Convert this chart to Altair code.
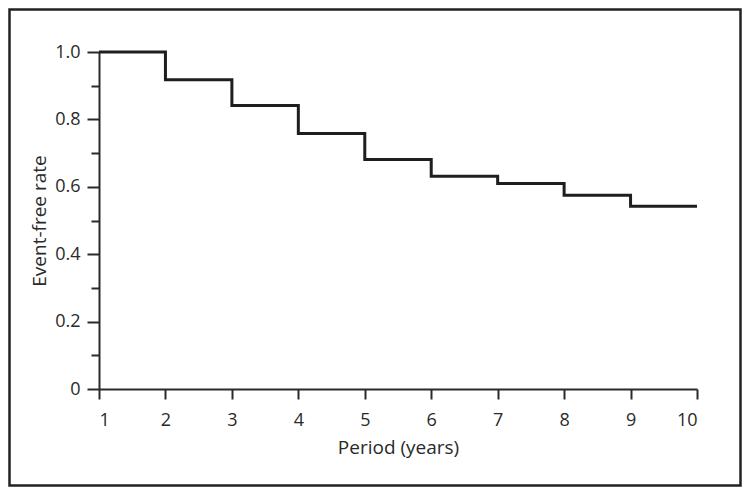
import altair as alt
import pandas as pd

years = [1, 2, 3, 4, 5, 6, 7, 8, 9, 10]
rates = [1.0, 0.918, 0.841, 0.758, 0.681, 0.631, 0.610, 0.575, 0.542, 0.542]
y_ticks = [0, 0.1, 0.2, 0.3, 0.4, 0.5, 0.6, 0.7, 0.8, 0.9, 1.0]

df = pd.DataFrame({"year": years, "rate": rates})

FONT = "Open Sans"
TXT = "#2a2a2a"
AX = "#2a2a2a"

W, H = 598, 337
PL, PT, PR, PB = 91, 44, 45, 98

line = alt.Chart(df).mark_line(
    interpolate="step-after", color="#1e1e1e", strokeWidth=3,
    strokeJoin="miter", strokeCap="butt"
).encode(
    x=alt.X("year:Q", scale=alt.Scale(domain=[1, 10], nice=False, zero=False),
            axis=alt.Axis(values=years, title="Period (years)", grid=False,
                          tickSize=10, tickWidth=2, domainWidth=2,
                          labelPadding=26, labelBaseline="alphabetic",
                          titleX=W / 2, titleY=64,
                          titleBaseline="alphabetic", titleAlign="center")),
    y=alt.Y("rate:Q", scale=alt.Scale(domain=[0, 1], nice=False),
            axis=alt.Axis(values=y_ticks, title="Event-free rate", grid=False,
                          tickSize={"condition": {"test": "round(datum.value*10)%2==0", "value": 12}, "value": 8},
                          tickWidth=2, domainWidth=2, labelPadding=7,
                          labelExpr="round(datum.value*10)%2==0 ? (datum.value==0 ? '0' : format(datum.value, '.1f')) : ''",
                          titleAngle=270, titleX=-54, titleY=H / 2,
                          titleBaseline="alphabetic", titleAlign="center")),
)

border = alt.Chart(pd.DataFrame({"a": [0]})).mark_rect(
    filled=False, stroke="#222222", strokeWidth=2.5
).encode(
    x=alt.value(-PL + 1.5), x2=alt.value(W + PR - 1.5),
    y=alt.value(-PT + 1.5), y2=alt.value(H + PB - 1.5),
)

chart = alt.layer(line, border).properties(
    width=W, height=H,
    autosize=alt.AutoSizeParams(type="none"),
    padding={"left": PL, "top": PT, "right": PR, "bottom": PB},
    background="white",
).configure_view(stroke=None).configure_axis(
    labelFont=FONT, titleFont=FONT, labelFontSize=18, titleFontSize=19,
    labelColor=TXT, titleColor=TXT, domainColor=AX, tickColor=AX,
    labelFontWeight="normal", titleFontWeight="normal",
)

chart.save("out.html", embed_options={"renderer": "svg", "actions": False})
